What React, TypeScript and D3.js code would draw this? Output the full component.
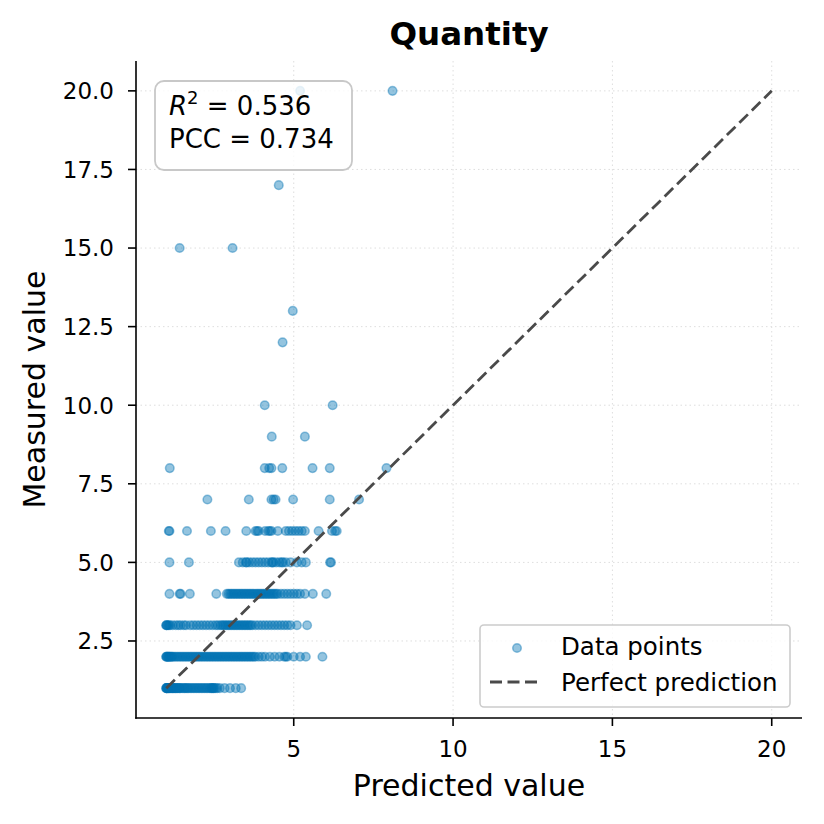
import * as d3 from 'd3';

// Predicted values, grouped by the measured quantity they were recorded at
const predictedAt1 = [
  1.0, 1.0, 1.01, 1.02, 1.03, 1.05, 1.06, 1.08, 1.1, 1.12, 1.15, 1.18, 1.2, 1.22, 1.25, 1.28,
  1.3, 1.33, 1.36, 1.4, 1.42, 1.45, 1.5, 1.55, 1.58, 1.62, 1.66, 1.7, 1.75, 1.8, 1.85, 1.9,
  1.95, 2.0, 2.05, 2.1, 2.15, 2.2, 2.25, 2.3, 2.35, 2.4, 2.42, 2.45, 2.48, 2.5, 2.55, 2.6,
  2.68, 2.83, 3.0, 3.18, 3.35,
];
const predictedAt2 = [
  1.0, 1.0, 1.02, 1.04, 1.06, 1.08, 1.1, 1.12, 1.15, 1.18, 1.2, 1.25, 1.3, 1.35, 1.4, 1.45,
  1.5, 1.55, 1.6, 1.65, 1.7, 1.75, 1.8, 1.85, 1.9, 1.95, 2.0, 2.05, 2.1, 2.15, 2.2, 2.25,
  2.3, 2.35, 2.4, 2.45, 2.5, 2.55, 2.6, 2.65, 2.7, 2.75, 2.8, 2.85, 2.9, 2.95, 3.0, 3.05,
  3.1, 3.15, 3.2, 3.25, 3.3, 3.35, 3.4, 3.45, 3.5, 3.55, 3.6, 3.65, 3.7, 3.75, 3.8, 3.9,
  4.0, 4.1, 4.25, 4.4, 4.55, 4.7, 4.75, 4.8, 5.0, 5.2, 5.38, 5.9,
];
const predictedAt3 = [
  1.0, 1.0, 1.02, 1.05, 1.08, 1.12, 1.2, 1.3, 1.38, 1.45, 1.55, 1.62, 1.75, 1.85, 1.95, 2.05,
  2.15, 2.25, 2.35, 2.45, 2.55, 2.62, 2.7, 2.75, 2.8, 2.85, 2.9, 2.95, 3.0, 3.05, 3.1, 3.15,
  3.2, 3.25, 3.3, 3.35, 3.4, 3.45, 3.5, 3.55, 3.6, 3.65, 3.7, 3.8, 3.9, 4.0, 4.1, 4.2,
  4.3, 4.4, 4.5, 4.6, 4.7, 4.8, 4.9, 5.1, 5.42,
];
const predictedAt4 = [
  1.1, 1.42, 1.45, 1.74, 2.57, 2.9, 2.95, 3.0, 3.05, 3.1, 3.15, 3.2, 3.25, 3.3, 3.35, 3.4,
  3.45, 3.5, 3.55, 3.6, 3.65, 3.7, 3.75, 3.8, 3.85, 3.9, 3.95, 4.0, 4.05, 4.1, 4.15, 4.2,
  4.25, 4.3, 4.35, 4.4, 4.45, 4.5, 4.6, 4.7, 4.8, 4.9, 5.0, 5.1, 5.2, 5.35, 5.6, 6.02,
];
const predictedAt5 = [
  1.1, 1.71, 3.28, 3.4, 3.5, 3.52, 3.6, 3.7, 3.8, 3.9, 4.0, 4.1, 4.2, 4.3, 4.33, 4.36,
  4.45, 4.55, 4.62, 4.66, 4.75, 4.9, 5.1, 5.25, 5.38, 6.14, 6.17,
];
const predictedAt6 = [
  1.08, 1.1, 1.65, 2.4, 2.86, 3.51, 3.8, 3.85, 3.9, 4.1, 4.2, 4.25, 4.3, 4.5, 4.75, 4.85,
  4.95, 5.05, 5.15, 5.25, 5.35, 5.78, 6.2, 6.3, 6.35,
];
const predictedAt7 = [2.29, 3.59, 4.3, 4.37, 4.43, 4.98, 6.13, 7.05];
const predictedAt8 = [1.11, 4.09, 4.23, 4.3, 4.64, 5.59, 6.13, 7.91];
const predictedAt9 = [4.31, 5.35];
const predictedAt10 = [4.09, 6.22];
const predictedAt12 = [4.65];
const predictedAt13 = [4.97];
const predictedAt15 = [1.42, 3.08];
const predictedAt17 = [4.53];
const predictedAt20 = [5.2, 8.1];

const groups: [number, number[]][] = [
  [1, predictedAt1], [2, predictedAt2], [3, predictedAt3], [4, predictedAt4],
  [5, predictedAt5], [6, predictedAt6], [7, predictedAt7], [8, predictedAt8],
  [9, predictedAt9], [10, predictedAt10], [12, predictedAt12], [13, predictedAt13],
  [15, predictedAt15], [17, predictedAt17], [20, predictedAt20],
];

const xTicks = [5, 10, 15, 20];
const yTicks = [2.5, 5, 7.5, 10, 12.5, 15, 17.5, 20];
const perfectLine = [1, 20];
const r2 = '0.536';
const pcc = '0.734';

const font = '"DejaVu Sans", sans-serif';
const pointColor = '#0072B2';

export default function App() {
  const width = 824;
  const height = 824;
  const margin = { top: 61, right: 22, bottom: 106, left: 136 };

  const x = d3.scaleLinear().domain([0.05, 20.95]).range([margin.left, width - margin.right]);
  const y = d3.scaleLinear().domain([0.05, 20.95]).range([height - margin.bottom, margin.top]);

  const points = groups.flatMap(([m, preds]) => preds.map(p => ({ p, m })));
  const diag = d3.line<number>().x(d => x(d)).y(d => y(d))(perfectLine) ?? '';

  const [x0, x1] = x.range();
  const [yb, yt] = y.range();

  return (
    <svg width={width} height={height} style={{ position: 'absolute', left: 0, top: 0 }}
      fontFamily={font}>
      <rect width={width} height={height} fill="#fff" />

      {/* grid */}
      <g stroke="#dedede" strokeWidth={1} strokeDasharray="1.5,3">
        {xTicks.map(t => <line key={'gx' + t} x1={x(t)} x2={x(t)} y1={yt} y2={yb} />)}
        {yTicks.map(t => <line key={'gy' + t} x1={x0} x2={x1} y1={y(t)} y2={y(t)} />)}
      </g>

      {/* scatter */}
      <g fill={pointColor} stroke={pointColor} fillOpacity={0.42} strokeOpacity={0.42} strokeWidth={1.5}>
        {points.map((d, i) => <circle key={i} cx={x(d.p)} cy={y(d.m)} r={4.3} />)}
      </g>

      {/* perfect prediction */}
      <path d={diag} fill="none" stroke="#4a4a4a" strokeWidth={2.8} strokeDasharray="12,5.5" />

      {/* spines and ticks */}
      <g stroke="#000" strokeWidth={1.6}>
        <line x1={x0} x2={x0} y1={yt} y2={yb + 0.8} />
        <line x1={x0 - 0.8} x2={x1} y1={yb} y2={yb} />
        {xTicks.map(t => <line key={'tx' + t} x1={x(t)} x2={x(t)} y1={yb} y2={yb + 8} />)}
        {yTicks.map(t => <line key={'ty' + t} x1={x0 - 8} x2={x0} y1={y(t)} y2={y(t)} />)}
      </g>
      <g fontSize={23} fill="#000">
        {xTicks.map(t => (
          <text key={'lx' + t} x={x(t)} y={yb + 39} textAnchor="middle">{t}</text>
        ))}
        {yTicks.map(t => (
          <text key={'ly' + t} x={x0 - 22} y={y(t) + 8.3} textAnchor="end">{t.toFixed(1)}</text>
        ))}
      </g>

      {/* axis labels and title */}
      <text x={(x0 + x1) / 2} y={796} textAnchor="middle" fontSize={30}>Predicted value</text>
      <text transform={`translate(45,${(yt + yb) / 2}) rotate(-90)`} textAnchor="middle" fontSize={30}>
        Measured value
      </text>
      <text x={(x0 + x1) / 2} y={45} textAnchor="middle" fontSize={32.5} fontWeight="bold">Quantity</text>

      {/* metrics box */}
      <rect x={155} y={81} width={197} height={89} rx={9} fill="#fff" fillOpacity={0.8}
        stroke="#c8c8c8" strokeWidth={1.8} />
      <text x={169} y={115} fontSize={26}>
        <tspan fontStyle="italic">R</tspan>
        <tspan fontSize={18} dy={-11}>2</tspan>
        <tspan dy={11}>{' = ' + r2}</tspan>
      </text>
      <text x={169} y={148} fontSize={26}>{'PCC = ' + pcc}</text>

      {/* legend */}
      <rect x={480} y={625} width={310} height={82} rx={4} fill="#fff" fillOpacity={0.8}
        stroke="#cccccc" strokeWidth={1.6} />
      <circle cx={517} cy={648} r={4.3} fill={pointColor} stroke={pointColor}
        fillOpacity={0.42} strokeOpacity={0.42} strokeWidth={1.5} />
      <text x={561} y={655} fontSize={24.5}>Data points</text>
      <line x1={490} x2={538} y1={682} y2={682} stroke="#4a4a4a" strokeWidth={2.8} strokeDasharray="12,5.5" />
      <text x={561} y={691} fontSize={24.5}>Perfect prediction</text>
    </svg>
  );
}
